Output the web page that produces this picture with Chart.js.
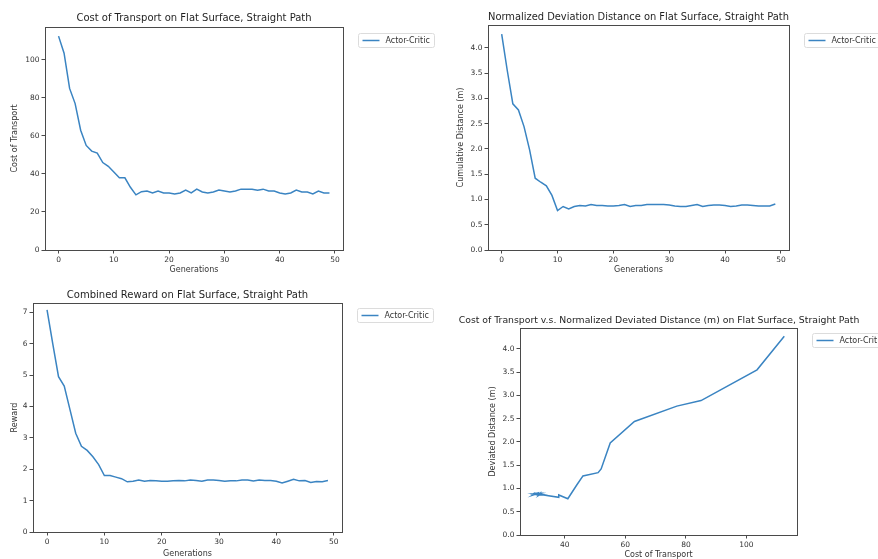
<!DOCTYPE html>
<html>
<head>
<meta charset="utf-8">
<script src="https://cdn.jsdelivr.net/npm/chart.js@4/dist/chart.umd.min.js"></script>
<style>
  body { margin: 0; background: #fff; }
  #wrap { position: relative; width: 878px; height: 559px; overflow: hidden; background: #fff; }
  canvas { position: absolute; }
</style>
</head>
<body>
<div id="wrap">
  <canvas id="costChart" width="440" height="280" style="left:0;top:0"></canvas>
  <canvas id="devChart" width="438" height="280" style="left:440px;top:0"></canvas>
  <canvas id="rewardChart" width="440" height="279" style="left:0;top:280px"></canvas>
  <canvas id="costDevChart" width="438" height="279" style="left:440px;top:280px"></canvas>
</div>
<script>
// data
const generations = [0, 1, 2, 3, 4, 5, 6, 7, 8, 9, 10, 11, 12, 13, 14, 15, 16, 17, 18, 19,
  20, 21, 22, 23, 24, 25, 26, 27, 28, 29, 30, 31, 32, 33, 34, 35, 36, 37, 38, 39,
  40, 41, 42, 43, 44, 45, 46, 47, 48, 49];

const costOfTransport = [112.5, 103.5, 85, 77, 63, 55, 52, 51, 46, 44,
  41, 38, 38, 33, 29, 30.7, 31, 30, 31, 30,
  30, 29.5, 30, 31.5, 30, 32, 30.5, 30, 30.5, 31.5,
  31, 30.5, 31, 32, 32, 32, 31.5, 32, 31, 31,
  30, 29.5, 30, 31.5, 30.5, 30.5, 29.5, 31, 30, 30];

const deviationDistance = [4.27, 3.55, 2.89, 2.77, 2.44, 1.98, 1.42, 1.34, 1.27, 1.08,
  0.78, 0.86, 0.81, 0.86, 0.88, 0.87, 0.9, 0.88, 0.88, 0.87,
  0.87, 0.88, 0.9, 0.86, 0.88, 0.88, 0.9, 0.9, 0.9, 0.9,
  0.89, 0.87, 0.86, 0.86, 0.88, 0.9, 0.86, 0.88, 0.89, 0.89,
  0.88, 0.86, 0.87, 0.89, 0.89, 0.88, 0.87, 0.87, 0.87, 0.91];

const combinedReward = [7.08, 6.0, 4.95, 4.65, 3.9, 3.15, 2.73, 2.6, 2.4, 2.15,
  1.8, 1.8, 1.75, 1.7, 1.6, 1.62, 1.66, 1.62, 1.64, 1.63,
  1.62, 1.62, 1.63, 1.64, 1.63, 1.66, 1.64, 1.62, 1.66, 1.66,
  1.64, 1.62, 1.63, 1.63, 1.66, 1.66, 1.63, 1.66, 1.64, 1.64,
  1.62, 1.56, 1.62, 1.68, 1.63, 1.64, 1.58, 1.61, 1.6, 1.64];

const seriesName = 'Actor-Critic';

const blue = '#3a84c2';
const frameColor = '#4a4a4a';

Chart.defaults.font.family = '"DejaVu Sans", sans-serif';
Chart.defaults.color = '#333';

// matplotlib-style box around the axes plus a boxed legend to the right
const frameLegend = {
  id: 'frameLegend',
  afterDraw(chart, args, opts) {
    const { ctx, chartArea } = chart;
    const l = Math.round(chartArea.left) + 0.5, t = Math.round(chartArea.top) + 0.5;
    const r = Math.round(chartArea.right) + 0.5, b = Math.round(chartArea.bottom) + 0.5;
    ctx.save();
    ctx.strokeStyle = frameColor;
    ctx.lineWidth = 1;
    ctx.strokeRect(l, t, r - l, b - t);

    const x = r + 15, y = t + opts.dy;
    ctx.strokeStyle = '#dcdcdc';
    ctx.beginPath();
    ctx.roundRect(x, y, 76, 14, 2);
    ctx.stroke();
    ctx.strokeStyle = blue;
    ctx.lineWidth = 1.5;
    ctx.beginPath();
    ctx.moveTo(x + 4, y + 7);
    ctx.lineTo(x + 21, y + 7);
    ctx.stroke();
    ctx.fillStyle = '#333';
    ctx.font = '8px "DejaVu Sans"';
    ctx.textBaseline = 'middle';
    ctx.fillText(chart.data.datasets[0].label, x + 27, y + 7.5);
    ctx.restore();
  }
};

function axisTicks(size) {
  return { font: { size: size }, padding: 2, includeBounds: false };
}

function makeChart(id, points, o) {
  return new Chart(document.getElementById(id), {
    type: 'line',
    data: {
      datasets: [{
        label: seriesName,
        data: points,
        borderColor: blue,
        borderWidth: 1.5,
        pointRadius: 0,
        tension: 0,
        fill: false
      }]
    },
    options: {
      responsive: false,
      animation: false,
      layout: { padding: 0 },
      plugins: {
        legend: { display: false },
        tooltip: { enabled: false },
        title: {
          display: true,
          text: o.title,
          fullSize: !!o.wideTitle,
          color: '#1f1f1f',
          font: { size: o.titleSize || 10, weight: 'normal' },
          padding: { top: o.titleTop, bottom: o.titleBottom }
        },
        frameLegend: { dy: o.legendDy }
      },
      scales: {
        x: {
          type: 'linear',
          min: o.xMin,
          max: o.xMax,
          afterFit: s => { s.height = o.xAxisH; },
          ticks: Object.assign(axisTicks(7.5), { stepSize: o.xStep }),
          grid: { drawOnChartArea: false, tickLength: 3.5, color: frameColor },
          border: { display: false },
          title: { display: true, text: o.xLabel, font: { size: 8 }, padding: { top: 0, bottom: o.xTitlePad } }
        },
        y: {
          type: 'linear',
          min: 0,
          max: o.yMax,
          afterFit: s => { s.width = o.yAxisW; },
          ticks: Object.assign(axisTicks(7.5), {
            stepSize: o.yStep,
            callback: v => o.yStep < 1 ? v.toFixed(1) : String(v)
          }),
          grid: { drawOnChartArea: false, tickLength: 3.5, color: frameColor },
          border: { display: false },
          title: { display: true, text: o.yLabel, font: { size: 8 }, padding: { top: o.yTitlePad, bottom: 0 } }
        },
        // empty strip on the right that holds the legend
        legendSpace: {
          type: 'linear',
          position: 'right',
          afterFit: s => { s.width = o.padRight; },
          ticks: { display: false },
          grid: { display: false },
          border: { display: false }
        }
      }
    },
    plugins: [frameLegend]
  });
}

// Cost of transport by generation
makeChart('costChart', generations.map((g, i) => ({ x: g, y: costOfTransport[i] })), {
  title: 'Cost of Transport on Flat Surface, Straight Path',
  xLabel: 'Generations', yLabel: 'Cost of Transport',
  xMin: -2.45, xMax: 51.45, xStep: 10, yMax: 117.3, yStep: 20,
  padRight: 97, yAxisW: 45, xAxisH: 30,
  titleTop: 12, titleBottom: 3, yTitlePad: 10.2, xTitlePad: 5.2, legendDy: 6
});

// deviation distance by generation
makeChart('devChart', generations.map((g, i) => ({ x: g, y: deviationDistance[i] })), {
  title: 'Normalized Deviation Distance on Flat Surface, Straight Path',
  xLabel: 'Generations', yLabel: 'Cumulative Distance (m)',
  xMin: -2.45, xMax: 51.45, xStep: 10, yMax: 4.45, yStep: 0.5,
  padRight: 89, yAxisW: 48, xAxisH: 30,
  titleTop: 11, titleBottom: 2, yTitlePad: 16, xTitlePad: 5.2, legendDy: 8
});

// combined reward by generation
makeChart('rewardChart', generations.map((g, i) => ({ x: g, y: combinedReward[i] })), {
  title: 'Combined Reward on Flat Surface, Straight Path',
  xLabel: 'Generations', yLabel: 'Reward',
  xMin: -2.45, xMax: 51.45, xStep: 10, yMax: 7.3, yStep: 1,
  padRight: 98, yAxisW: 33, xAxisH: 27,
  titleTop: 9, titleBottom: 2, yTitlePad: 10.2, xTitlePad: 0.2, legendDy: 5
});

// cost vs deviation, one point per generation
makeChart('costDevChart', generations.map((g, i) => ({ x: costOfTransport[i], y: deviationDistance[i] })), {
  title: 'Cost of Transport v.s. Normalized Deviated Distance (m) on Flat Surface, Straight Path',
  wideTitle: true, titleSize: 9.3,
  xLabel: 'Cost of Transport', yLabel: 'Deviated Distance (m)',
  xMin: 25.2, xMax: 116.7, xStep: 20, yMax: 4.45, yStep: 0.5,
  padRight: 81, yAxisW: 80, xAxisH: 24,
  titleTop: 35.4, titleBottom: 1.4, yTitlePad: 48.2, xTitlePad: -1, legendDy: 5
});
</script>
</body>
</html>
